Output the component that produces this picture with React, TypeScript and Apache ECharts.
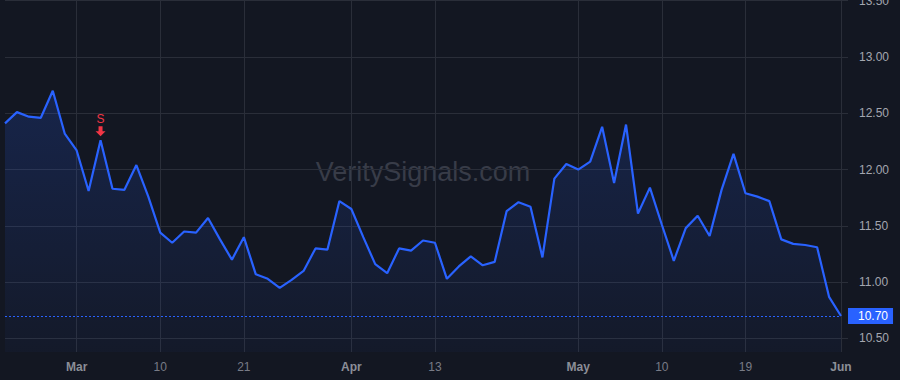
import React, { useEffect, useRef } from "react";
import * as echarts from "echarts";

const DATES: string[] = [
  "2023-02-21", "2023-02-22", "2023-02-23", "2023-02-24", "2023-02-27", "2023-02-28",
  "2023-03-01", "2023-03-02", "2023-03-03", "2023-03-06", "2023-03-07", "2023-03-08", "2023-03-09", "2023-03-10",
  "2023-03-13", "2023-03-14", "2023-03-15", "2023-03-16", "2023-03-17", "2023-03-20", "2023-03-21",
  "2023-03-22", "2023-03-23", "2023-03-24", "2023-03-27", "2023-03-28", "2023-03-29", "2023-03-30", "2023-03-31",
  "2023-04-03", "2023-04-04", "2023-04-05", "2023-04-06", "2023-04-10", "2023-04-11", "2023-04-12", "2023-04-13",
  "2023-04-14", "2023-04-17", "2023-04-18", "2023-04-19", "2023-04-20", "2023-04-21", "2023-04-24", "2023-04-25",
  "2023-04-26", "2023-04-27", "2023-04-28",
  "2023-05-01", "2023-05-02", "2023-05-03", "2023-05-04", "2023-05-05", "2023-05-08", "2023-05-09", "2023-05-10",
  "2023-05-11", "2023-05-12", "2023-05-15", "2023-05-16", "2023-05-17", "2023-05-18", "2023-05-19",
  "2023-05-22", "2023-05-23", "2023-05-24", "2023-05-25", "2023-05-26", "2023-05-30", "2023-05-31",
  "2023-06-01",
];

const PRICES: number[] = [
  12.41, 12.51, 12.47, 12.46, 12.70, 12.32,
  12.17, 11.81, 12.26, 11.83, 11.82, 12.04, 11.76, 11.44,
  11.35, 11.45, 11.44, 11.57, 11.38, 11.20, 11.40,
  11.07, 11.03, 10.95, 11.02, 11.10, 11.30, 11.29, 11.72,
  11.65, 11.40, 11.16, 11.08, 11.30, 11.28, 11.37, 11.35,
  11.03, 11.14, 11.23, 11.15, 11.18, 11.63, 11.71, 11.67,
  11.22, 11.92, 12.05,
  12.00, 12.07, 12.38, 11.88, 12.40, 11.61, 11.84, 11.51,
  11.19, 11.48, 11.59, 11.41, 11.82, 12.14, 11.79,
  11.76, 11.72, 11.38, 11.34, 11.33, 11.31, 10.87,
  10.70,
];

// x tick labels: index in DATES -> label text, and whether it is a month label
const TICK_INDEX: number[] = [6, 13, 20, 29, 36, 48, 55, 62, 70];
const TICK_TEXT: string[] = ["Mar", "10", "21", "Apr", "13", "May", "10", "19", "Jun"];
const TICK_IS_MONTH: boolean[] = [true, false, false, true, false, true, false, false, true];

const SIGNAL_INDEX = 8;
const SIGNAL_LABEL = "S";
const LAST_PRICE = PRICES[PRICES.length - 1];

const Y_MIN = 10.38;
const Y_MAX = 13.506;

const FONT = "'Liberation Sans', Arial, sans-serif";
const BG = "#131722";
const GRID = "#2a2e39";
const BLUE = "#2962ff";
const RED = "#f23645";

export default function App() {
  const ref = useRef<HTMLDivElement>(null);

  useEffect(() => {
    document.body.style.margin = "0";
    document.body.style.background = BG;
    if (!ref.current) return;
    const chart = echarts.init(ref.current, undefined, { renderer: "svg" });
    const tickFn = (index: number) => TICK_INDEX.indexOf(index) >= 0;

    chart.setOption({
      animation: false,
      backgroundColor: BG,
      textStyle: { fontFamily: FONT },
      grid: {
        left: 5,
        right: 59,
        top: 0,
        bottom: 28,
        containLabel: false,
        outerBoundsMode: "none",
      },
      graphic: [
        {
          type: "text",
          x: 423,
          y: 172,
          z: 0,
          silent: true,
          style: {
            text: "VeritySignals.com",
            fontSize: 27,
            fontFamily: FONT,
            fill: "#383c48",
            textAlign: "center",
            textVerticalAlign: "middle",
          },
        },
      ],
      xAxis: {
        type: "category",
        data: DATES,
        boundaryGap: false,
        axisLine: { show: false },
        axisTick: { show: false },
        axisLabel: {
          interval: tickFn,
          margin: 9,
          fontSize: 12,
          fontFamily: FONT,
          color: "#787b86",
          formatter: (_v: string, index: number) => {
            const k = TICK_INDEX.indexOf(index);
            if (k < 0) return "";
            return TICK_IS_MONTH[k] ? `{m|${TICK_TEXT[k]}}` : TICK_TEXT[k];
          },
          rich: {
            m: { fontWeight: "bold", color: "#8b8e97", fontSize: 12, fontFamily: FONT },
          },
        },
        splitLine: {
          show: true,
          interval: tickFn,
          lineStyle: { color: GRID, width: 1 },
        },
      },
      yAxis: {
        type: "value",
        position: "right",
        min: Y_MIN,
        max: Y_MAX,
        splitNumber: 6,
        axisLine: { show: false },
        axisTick: { show: true, length: 7, lineStyle: { color: GRID } },
        axisLabel: {
          margin: 18,
          fontSize: 12,
          fontFamily: FONT,
          color: "#a3a6af",
          showMinLabel: false,
          showMaxLabel: false,
          formatter: (v: number) => v.toFixed(2),
        },
        splitLine: {
          show: true,
          showMinLine: false,
          showMaxLine: false,
          lineStyle: { color: GRID, width: 1 },
        },
      },
      series: [
        {
          type: "line",
          data: PRICES,
          symbol: "none",
          z: 3,
          lineStyle: { color: BLUE, width: 2.2 },
          areaStyle: {
            color: new echarts.graphic.LinearGradient(0, 0, 0, 1, [
              { offset: 0, color: "rgba(41,98,255,0.26)" },
              { offset: 1, color: "rgba(41,98,255,0.05)" },
            ]),
          },
          markPoint: {
            silent: true,
            data: [
              {
                coord: [DATES[SIGNAL_INDEX], PRICES[SIGNAL_INDEX]],
                symbol: "path://M3,0 L7,0 L7,5 L10,5 L5,10 L0,5 L3,5 Z",
                symbolSize: [10, 10],
                symbolOffset: [0, -9],
                itemStyle: { color: RED },
                label: {
                  show: true,
                  formatter: SIGNAL_LABEL,
                  position: "top",
                  distance: 1,
                  color: RED,
                  fontSize: 12,
                  fontFamily: FONT,
                },
              },
            ],
          },
          markLine: {
            silent: true,
            symbol: "none",
            data: [{ yAxis: LAST_PRICE }],
            lineStyle: { color: BLUE, type: [2, 2], width: 1 },
            label: {
              show: true,
              position: "end",
              distance: 7,
              formatter: () => LAST_PRICE.toFixed(2),
              backgroundColor: BLUE,
              color: "#ffffff",
              fontSize: 12,
              fontFamily: FONT,
              padding: [2, 5, 2, 10],
            },
          },
        },
      ],
    });

    return () => chart.dispose();
  }, []);

  return <div ref={ref} style={{ width: 900, height: 380 }} />;
}
